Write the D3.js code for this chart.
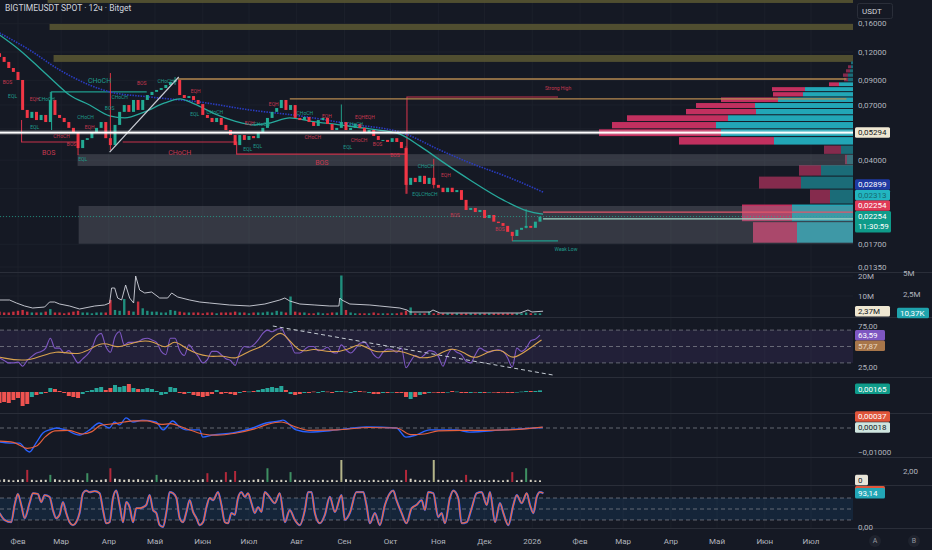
<!DOCTYPE html>
<html>
<head>
<meta charset="utf-8">
<script src="https://cdn.jsdelivr.net/npm/d3@7"></script>
<style>
  html, body { margin: 0; padding: 0; background: #151924; }
  svg { display: block; font-family: Roboto, "Noto Sans", sans-serif; }
</style>
</head>
<body>
<script>
const width = 932;
const height = 550;
const plotRight = 853;

// ---- data (day = days since 2025-01-20, one candle every 3 days) ----
const startDay = Date.UTC(2025, 0, 20);
const firstOpen = 0.1185;
const closes = [
  0.1141,0.1085,0.1020,0.0980,0.0903,0.0666,0.0614,0.0653,0.0601,0.0633,
  0.0589,0.0737,0.0633,0.0614,0.0589,0.0555,0.0532,0.0452,0.0491,0.0500,
  0.0527,0.0555,0.0589,0.0500,0.0466,0.0572,0.0653,0.0700,0.0653,0.0737,
  0.0666,0.0737,0.0775,0.0800,0.0816,0.0832,0.0858,0.0885,0.0903,0.0775,
  0.0752,0.0767,0.0737,0.0707,0.0633,0.0614,0.0589,0.0614,0.0572,0.0543,
  0.0516,0.0466,0.0516,0.0491,0.0511,0.0500,0.0532,0.0555,0.0614,0.0653,
  0.0679,0.0737,0.0666,0.0700,0.0614,0.0601,0.0620,0.0589,0.0566,0.0601,
  0.0614,0.0577,0.0543,0.0555,0.0589,0.0543,0.0555,0.0577,0.0555,0.0532,
  0.0543,0.0511,0.0491,0.0491,0.0481,0.0500,0.0481,0.0452,0.0311,0.0334,
  0.0320,0.0341,0.0314,0.0334,0.0311,0.0302,0.0289,0.0302,0.0289,0.0295,
  0.0267,0.0241,0.0246,0.0236,0.0241,0.0222,0.0229,0.0214,0.0211,0.0205,
  0.0193,0.0185,0.0197,0.0201,0.0205,0.0201,0.0214,0.02254
];
// [candle, high, low] for the long wicks
const wicks = [[0,0.1185,0.1120],[11,0.0800,0.0650],[17,0.0470,0.0421],[24,0.0969,0.0443],
  [38,0.0931,0.0860],[74,0.0704,0.0560],[88,0.0460,0.0284],[94,0.0405,0.0300],
  [111,0.0190,0.0176],[114,0.0243,0.0200]];

const maTealDay = [0,13,26,35.8,45.5,58.5,71.5,81.3,94.3,107.3,117,126.8,139.8,152.8,165.8,175.5,188.5,201.5,221,240.5,260,273,290.6,305.5,327,342.6,353];
const maTeal = [0.1427,0.1225,0.1020,0.0885,0.0775,0.0700,0.0627,0.0614,0.0653,0.0715,0.0745,0.0707,0.0640,0.0595,0.0572,0.0583,0.0614,0.0595,0.0572,0.0549,0.0521,0.0461,0.0381,0.0327,0.0267,0.0239,0.0231];
const maBlueDay = [0,19.5,39,58.5,71.5,97.5,130,162.5,195,227.5,262,286,305.5,331.5,353];
const maBlue = [0.1456,0.1225,0.1000,0.0858,0.0800,0.0760,0.0722,0.0666,0.0627,0.0577,0.0527,0.0443,0.0389,0.0334,0.0289];

// volume profile rows (bottom up)
const vpLow = 0.0172;
const vpStep = 0.0042;
const vpSell = [44,50,20,42,22,2,17,95,122,104,101,70,59,57,30,33,10,4,5,4,3,0];
const vpBuy  = [56,61,23,52,32,6,12,79,132,137,125,97,98,75,50,48,14,5,5,3,2,2];
const vpBright = [1,1,0,0,0,0,0,1,1,1,1,1,1,1,1,1,1,0,0,0,0,0];

// zones [fromDay, toDay, lowPrice, highPrice]
const oliveZones = [[31.2,555,0.1975,0.2036],[32.5,555,0.1501,0.1596],[35.1,555,0.1085,0.1164]];
const greyZones = [[50.7,555,0.0377,0.0425],[51.4,555,0.0171,0.0251]];
const redStructure = [
  [[14.3,0.0601],[14.3,0.0481],[50.7,0.0481]],
  [[80,0.0481],[154,0.0481],[154,0.0425],[264.6,0.0425]],
  [[264.6,0.0284],[264.6,0.0760],[362.7,0.0760]]
];
const tealStructure = [
  [[33.8,0.0543],[33.8,0.0800],[95.6,0.0800]],
  [[332.8,0.0176],[362.7,0.0176]]
];
const orangeLevels = [[115.7,550,0.0912],[188.5,550,0.0745]];
const zoneLines = [[353,555,0.0236,"#e0566a"],[353,555,0.0220,"#9fd6c6"]];
const trendLine = [[71.5,0.0434],[116.4,0.0931]];
const pocPrice = 0.05294;
const lastPrice = 0.02254;

const smcLabels = [
  ["BOS",5.2,0.0885,"r",5],["EQL",8.5,0.0767,"t",5],["EQH",22.8,0.0745,"r",5],["CHoCH",30.6,0.0745,"t",5],
  ["EQL",22.8,0.0560,"t",5],["CHoCH",55.9,0.0620,"t",5],["EQH",58.5,0.0560,"r",5],["CHoCH",40.3,0.0511,"r",5],
  ["BOS",46.8,0.0471,"r",5],["EQL",54,0.0405,"t",5],["BOS",31.9,0.0434,"r",7],["CHoCH",65,0.0894,"t",7],
  ["BOS",71.5,0.0679,"t",5],["BOS",92.3,0.0876,"r",5],["CHoCH",107.9,0.0894,"t",5],["CHoCH",78,0.0760,"t",5],
  ["EQH",127.4,0.0807,"r",5],["EQL",126.8,0.0640,"t",5],["CHoCH",139.8,0.0653,"t",5],["EQH",162.5,0.0583,"r",5],
  ["EQL",161.2,0.0448,"t",5],["EQL",167.7,0.0461,"t",5],["CHoCH",170.3,0.0577,"t",5],["EQH",178.1,0.0707,"r",5],
  ["CHoCH",198.3,0.0646,"t",5],["EQH",212.6,0.0627,"r",5],["EQHEQH",237.3,0.0620,"r",5],["CHoCH",203.5,0.0506,"r",5],
  ["CHoCH",230.8,0.0577,"t",5],["CHoCH",233.5,0.0488,"r",5],["BOS",245.5,0.0468,"r",5],["EQL",226.2,0.0457,"t",5],
  ["BOS",256.8,0.0421,"r",5],["CHoCH",117,0.0434,"r",7],["BOS",209.3,0.0389,"r",7],["CHoCH",276.9,0.0377,"t",5],
  ["EQH",289.9,0.0344,"r",5],["EQLCHoCH",276.3,0.0284,"t",5],["BOS",295.8,0.0229,"r",5],["BOS",325,0.0199,"r",5],
  ["Strong High",362.7,0.0832,"r",5],["Weak Low",367.9,0.0162,"t",5]
];

const priceTicks = [0.16,0.12,0.09,0.07,0.055,0.04,0.03,0.0225,0.017,0.0135];
const labelledTicks = [0.16,0.12,0.09,0.07,0.04,0.017,0.0135];

// volume pane
const volLine = [[0,8],[6.5,8],[11,6.5],[16.3,5],[21.5,4],[29.3,4.5],[32.5,7],[35.8,7],[39,6],[45.5,5],[52,3.5],
  [61.8,5],[68.3,5.5],[71.5,6.5],[72.8,14],[74.8,14],[76.7,9],[79.3,8],[81.9,15.5],[84.5,9],[87.1,6.5],[88.4,20],
  [91,13],[94.3,11.5],[98.8,12],[104,9],[109.2,9],[111.8,11.5],[115.7,9.5],[123.5,8],[130,7],[136.5,6.5],
  [149.5,5.5],[162.5,5],[172.3,6],[182,8],[185.3,9],[188.5,7.5],[195,6],[204.8,5.5],[214.5,5],[220.4,5],[221,9],
  [222.3,8],[227.5,6],[240.5,5.5],[247,5],[260,4],[264.6,3],[266.5,2],[279.5,2],[281.5,3],[286,1.5],[325,1.5],
  [338,1.5],[343.2,3],[345.8,2],[353,2.4]];
const volBars = [
  0.4,0.3,0.3,0.4,0.5,0.6,0.4,0.3,0.3,0.3, 0.4,0.7,0.3,0.3,0.2,0.3,0.4,0.5,0.3,0.3,
  0.2,0.3,0.3,0.3,1.8,0.6,0.5,1.9,0.5,0.4, 1.6,0.8,0.5,0.4,0.4,0.3,0.3,0.6,0.5,0.4,
  0.3,0.3,0.3,0.3,0.2,0.3,0.3,0.2,0.3,0.3, 0.3,0.4,0.3,0.3,0.2,0.3,0.3,0.3,0.4,0.3,
  0.5,0.4,0.3,2.2,0.4,0.3,0.3,0.2,0.2,0.3, 0.2,0.2,0.3,0.3,4.7,0.6,0.3,0.2,0.2,0.2,
  0.2,0.3,0.2,0.2,0.2,0.2,0.2,0.3,0.5,0.9, 0.2,0.2,0.2,0.4,0.2,0.2,0.2,0.2,0.2,0.2,
  0.2,0.2,0.2,0.2,0.2,0.2,0.2,0.2,0.2,0.2, 0.2,0.2,0.2,0.2,0.3,0.2,0.2,0.2];

// RSI
const rsi = [
  36,33,30,30,31,26,33,38,42,44, 48,60,48,48,42,45,38,30,35,40,
  48,62,66,50,43,62,68,52,55,55, 56,59,60,58,55,44,40,60,60,45,
  39,52,45,38,30,34,44,44,40,35, 33,27,42,50,49,52,58,66,70,68,
  71,72,62,54,42,42,46,50,50,45, 46,49,43,42,52,46,42,47,54,55,
  49,40,36,43,47,46,43,48,24,32, 39,36,40,45,44,38,26,40,47,43,
  40,32,30,40,48,45,43,45,46,44, 36,25,48,44,48,57,59,64];
const rsiMaDay = [0,19.5,37,52,67,76,87,100,108,113.4,121,136.5,145,153.5,162.5,171,180,184.5,195,203.5,214,227.5,234,243.5,260,273,286,292.5,302,308.5,318.5,328,332.5,344.5,352];
const rsiMa = [37,30,48,36,59,46,56,58,45,60,46,36,40,33,46,49,66,68,40,49,42,46,56,40,48,33,40,49,43,33,46,46,32,48,58];
const rsiTrend = [[177.5,75],[359.5,15.2]];

// MACD (values in 1e-3)
const macdHist = [
  -5.5,-5,-5.5,-4,-3,-7,-6,-2.5,-1.5,-1, -0.5,2,1.5,0.5,-0.5,-2,-2.5,-3,-1,0.5,
  1,2,2.5,1,2,3.5,2.5,3,4,2, 1.5,1.5,2,1.5,0.5,-1.5,-1,2.5,2,-0.5,
  -1,-0.5,-1.5,-2,-2.5,-2,-1,1,-1,-0.5, -1,-1.5,-0.5,0.5,0.2,0.5,1,1.5,2,2.5,
  2,3,1,-1,-1.5,-1,-0.5,-0.5,0.2,-0.5, 0.5,0.2,-0.5,0.5,0.5,0.2,-0.5,0.5,0.5,0.2,
  -0.5,-1,-1,-0.5,-0.5,-0.2,-0.5,-0.5,-2.5,-3.5, -2.5,-1.5,-1,-0.5,-0.2,-0.5,-0.5,-0.2,0.5,0.2,
  -0.5,-0.5,-0.5,-0.2,-0.5,-0.5,-0.2,-0.2,-0.5,-0.2, -0.5,-0.5,-0.2,0.2,0.5,0.5,0.5,0.8];
const macdDay = [0,6.6,12.9,17.4,19.5,23.7,28.2,32.4,36.9,43.2,51.9,58.5,64.8,71.4,74.7,78,82.2,86.7,93,101.7,106.2,112.5,117,121.2,129.9,132,138.6,151.5,164.4,173.1,181.8,183.9,192.6,201.3,219.3,238.2,257.7,264,270.6,279.3,296.7,305.1,327,352.8];
const macdLine = [-5.8,-6.3,-6.3,-9.2,-10,-6.3,-2.1,-0.8,0,-0.8,-2.9,-0.8,2.1,0,2.5,1.3,4.2,2.5,3.3,2.5,-0.8,2.9,0.4,-0.8,-0.8,-3.8,-2.9,-2.1,0,2.1,2.9,3.3,-0.8,-1.7,-0.8,0.4,0,-3.8,-2.9,-0.8,-0.8,-1.7,-0.8,0.2];
const signalDay = [0,9,18,24,30,36,45,54,60,66,75,81,87,96,105,111,120,132,141,153,165,174,183,192,201,219,240,258,267,276,285,300,315,330,352.8];
const signalLine = [-5.5,-6,-8.5,-7.5,-3.5,-1.2,-1,-2.5,-1.5,1.2,1.8,2.5,3,3,1.5,1.8,0,-2.5,-3,-2.2,-0.5,1.5,2.5,0.5,-1,-0.8,0.2,0,-2.8,-2.5,-1.2,-1,-1,-0.8,0.4];

// squeeze-style bars
const sqBars = [
  0.4,0.5,0.4,0.3,0.4,0.5,2.2,0.4,0.3,0.4, 0.4,1.3,0.5,0.4,0.3,0.4,0.5,0.4,0.3,1.6,
  0.4,0.3,0.4,0.5,2.5,0.6,0.5,0.4,0.5,0.4, 0.5,0.4,0.3,0.4,1.3,0.4,0.5,0.4,0.3,0.4,
  0.3,0.4,0.3,0.4,0.5,1.6,0.4,0.3,0.4,1.8, 0.4,2.0,0.3,0.4,0.3,0.4,0.5,0.4,2.5,0.4,
  0.3,0.4,0.3,1.8,0.4,0.3,0.4,0.3,0.4,0.3, 0.4,0.3,0.4,0.3,4.0,0.5,0.4,0.3,0.4,0.3,
  0.3,0.4,0.3,0.3,0.4,0.3,0.4,0.3,2.2,0.6, 0.4,0.3,0.4,0.3,4.0,0.4,0.3,0.4,0.3,0.4,
  0.3,1.3,0.4,0.3,0.4,0.3,0.3,0.4,0.3,0.3, 0.4,1.8,0.3,0.4,2.5,0.4,0.3,0.3];

// stochastic
const stochDay = [0,3.3,7.6,9.8,11.9,14.1,16.3,19.5,21.7,24.9,27.1,29.3,32.5,34.7,36.8,39,41.2,43.3,45.5,47.7,
  49.8,52,54.2,56.3,58.5,61.8,65,67.2,69.3,71.5,73.7,75.8,78,80.2,82.3,84.5,86.7,88.8,91,93.2,
  95.3,97.5,99.7,101.8,104,106.2,108.4,110.5,112.7,114.9,117,119.2,121.4,123.5,125.7,127.9,130,132.2,134.4,136.5,
  138.7,141.9,144.1,146.3,148.4,150.6,152.8,154.9,157.1,159.3,161.4,163.6,165.8,167.9,170.1,172.3,174.4,
  178.8,182,185.3,188.5,191.8,195,198.3,200.4,202.6,204.8,208,211.3,214.5,217.8,222.1,224.3,227.5,231.8,236.2,238.3,
  240.5,243.8,247,250.3,253.5,255.7,257.8,261.1,264.3,267.6,270.8,274.1,276.3,278.4,281.7,284.9,287.1,289.3,292.5,294.7,
  297.9,300.1,303.4,306.6,309.9,313.1,316.4,318.5,321.8,325,327.2,330.4,333.7,335.9,339.1,342.4,344.5,346.7,348.9,351,353.2];
const stochK = [39,20,14,61,91,61,25,66,93,91,69,88,83,47,25,34,69,39,14,6,
  14,39,93,100,96,99,93,47,11,14,80,100,61,14,69,55,14,52,52,55,
  61,88,47,39,6,1,42,96,93,80,25,14,42,74,42,25,6,14,55,80,
  74,96,61,14,11,39,34,80,96,83,93,66,39,55,42,96,88,
  66,93,14,47,20,6,47,96,96,39,11,34,83,42,88,20,39,96,96,61,
  11,39,6,61,93,100,74,39,11,52,61,74,47,96,93,28,39,11,80,100,
  80,11,14,52,93,96,61,96,14,66,39,6,61,88,66,93,61,39,83,96,93];

const ruMonths = ["Янв","Фев","Мар","Апр","Май","Июн","Июл","Авг","Сен","Окт","Ноя","Дек"];

// ---- layout ----
const svg = d3.select("body").append("svg")
  .attr("width", width)
  .attr("height", height)
  .style("background", "#151924");

const UP = "#22ab94", DOWN = "#f23645";
const axisText = "#b2b5be";
const gridColor = "#1c202b";

const dayDate = d => new Date(startDay + d * 864e5);
const x = d3.scaleUtc()
  .domain([new Date(Date.UTC(2025, 1, 1)), new Date(Date.UTC(2026, 6, 1))])
  .range([18, 811]);
const xd = d => x(dayDate(d));

const yP = d3.scaleLog().domain([0.12, 0.0135]).range([52, 267]);
const yVol = d3.scaleLinear().domain([0, 20]).range([316, 276]);
const yVol2 = d3.scaleLinear().domain([0, 5]).range([315, 273]);
const yRsi = d3.scaleLinear().domain([25, 75]).range([367, 326]);
const yHist = d3.scaleLinear().domain([-10, 10]).range([412, 372]);
const yMacd = d3.scaleLinear().domain([-10, 0]).range([452, 428]);
const ySq = d3.scaleLinear().domain([0, 2]).range([482, 471]);
const yStoch = d3.scaleLinear().domain([0, 100]).range([527.3, 490.7]);
const xVP = d3.scaleLinear().domain([0, 100]).range([0, 100]);

const panes = [[0, 272], [272, 317], [317, 377], [377, 413], [413, 457], [457, 485], [485, 528]];
const defs = svg.append("defs");
panes.forEach((p, i) => {
  defs.append("clipPath").attr("id", "clip" + i)
    .append("rect").attr("x", 0).attr("y", p[0]).attr("width", plotRight).attr("height", p[1] - p[0]);
});
const pane = i => svg.append("g").attr("clip-path", `url(#clip${i})`);

const fmt = (v, n) => d3.format(`.${n}f`)(v).replace(".", ",");
const candles = closes.map((c, i) => ({ i, day: i * 3, o: i ? closes[i - 1] : firstOpen, c }));

// grid
const months = d3.utcMonths(new Date(Date.UTC(2025, 1, 1)), new Date(Date.UTC(2026, 6, 2)));
svg.append("g").selectAll("line").data(months).join("line")
  .attr("x1", d => x(d)).attr("x2", d => x(d))
  .attr("y1", 0).attr("y2", 528)
  .attr("stroke", gridColor);
svg.append("g").selectAll("line").data(priceTicks).join("line")
  .attr("x1", 0).attr("x2", plotRight)
  .attr("y1", d => yP(d)).attr("y2", d => yP(d))
  .attr("stroke", gridColor);
svg.append("g").selectAll("line").data([10, 20]).join("line")
  .attr("x1", 0).attr("x2", plotRight)
  .attr("y1", d => yVol(d)).attr("y2", d => yVol(d))
  .attr("stroke", gridColor);

// ---- main pane ----
const main = pane(0);

main.append("g").selectAll("rect").data(oliveZones).join("rect")
  .attr("x", d => xd(d[0])).attr("width", d => xd(d[1]) - xd(d[0]))
  .attr("y", d => yP(d[3])).attr("height", d => yP(d[2]) - yP(d[3]))
  .attr("fill", "#5a5833").attr("opacity", 0.85);

// volume profile
const vpRows = vpSell.map((s, k) => ({ k, s, b: vpBuy[k], lo: vpLow + k * vpStep, hi: vpLow + (k + 1) * vpStep, bright: vpBright[k] }));
const vp = main.append("g");
vp.selectAll("rect.buy").data(vpRows).join("rect")
  .attr("x", d => plotRight - xVP(d.b)).attr("width", d => xVP(d.b))
  .attr("y", d => yP(d.hi) + 0.5).attr("height", d => Math.max(0.5, yP(d.lo) - yP(d.hi) - 1))
  .attr("fill", d => d.bright ? "#22a6b6" : "#1b6c78");
vp.selectAll("rect.sell").data(vpRows).join("rect")
  .attr("x", d => plotRight - xVP(d.b + d.s)).attr("width", d => xVP(d.s))
  .attr("y", d => yP(d.hi) + 0.5).attr("height", d => Math.max(0.5, yP(d.lo) - yP(d.hi) - 1))
  .attr("fill", d => d.bright ? "#c2305f" : "#852b4d");

main.append("g").selectAll("rect").data(greyZones).join("rect")
  .attr("x", d => xd(d[0])).attr("width", d => xd(d[1]) - xd(d[0]))
  .attr("y", d => yP(d[3])).attr("height", d => yP(d[2]) - yP(d[3]))
  .attr("fill", "#787b86").attr("opacity", 0.32);

const pLine = d3.line().x(d => xd(d[0])).y(d => yP(d[1]));
main.append("g").selectAll("path").data(redStructure).join("path")
  .attr("d", pLine).attr("fill", "none").attr("stroke", "#c8324a").attr("stroke-width", 1.1);
main.append("g").selectAll("path").data(tealStructure).join("path")
  .attr("d", pLine).attr("fill", "none").attr("stroke", "#1f9c8c").attr("stroke-width", 1.1);
main.append("g").selectAll("line").data(orangeLevels).join("line")
  .attr("x1", d => xd(d[0])).attr("x2", d => xd(d[1]))
  .attr("y1", d => yP(d[2])).attr("y2", d => yP(d[2]))
  .attr("stroke", "#b5894f").attr("stroke-width", 1.4);
main.append("g").selectAll("line").data(zoneLines).join("line")
  .attr("x1", d => xd(d[0])).attr("x2", d => xd(d[1]))
  .attr("y1", d => yP(d[2])).attr("y2", d => yP(d[2]))
  .attr("stroke", d => d[3]).attr("stroke-width", 1.3);

// moving averages
main.append("path")
  .attr("d", d3.line().curve(d3.curveMonotoneX).x((d, i) => xd(maBlueDay[i])).y(d => yP(d))(maBlue))
  .attr("fill", "none").attr("stroke", "#2a3cc0").attr("stroke-width", 1.6).attr("stroke-dasharray", "1.5,1.2");
main.append("path")
  .attr("d", d3.line().curve(d3.curveMonotoneX).x((d, i) => xd(maTealDay[i])).y(d => yP(d))(maTeal))
  .attr("fill", "none").attr("stroke", "#27a99c").attr("stroke-width", 1.3);

// candles
main.append("g").selectAll("line").data(wicks).join("line")
  .attr("x1", d => xd(d[0] * 3)).attr("x2", d => xd(d[0] * 3))
  .attr("y1", d => yP(d[1])).attr("y2", d => yP(d[2]))
  .attr("stroke", d => closes[d[0]] >= (d[0] ? closes[d[0] - 1] : firstOpen) ? UP : DOWN)
  .attr("stroke-width", 0.9);
main.append("g").selectAll("rect").data(candles).join("rect")
  .attr("x", d => xd(d.day) - 1.5).attr("width", 3)
  .attr("y", d => yP(Math.max(d.o, d.c)))
  .attr("height", d => Math.max(1, Math.abs(yP(d.o) - yP(d.c))))
  .attr("fill", d => d.c >= d.o ? UP : DOWN);

// trend line and POC line
main.append("path").attr("d", pLine(trendLine))
  .attr("stroke", "#c9ccd4").attr("stroke-width", 1.2).attr("fill", "none");
main.append("line").attr("x1", 0).attr("x2", plotRight)
  .attr("y1", yP(pocPrice)).attr("y2", yP(pocPrice))
  .attr("stroke", "#ffffff").attr("stroke-opacity", 0.35).attr("stroke-width", 4);
main.append("line").attr("x1", 0).attr("x2", plotRight)
  .attr("y1", yP(pocPrice)).attr("y2", yP(pocPrice))
  .attr("stroke", "#ffffff").attr("stroke-width", 1.8);
main.append("line").attr("x1", 0).attr("x2", plotRight)
  .attr("y1", yP(lastPrice)).attr("y2", yP(lastPrice))
  .attr("stroke", "#22ab94").attr("stroke-opacity", 0.7).attr("stroke-dasharray", "1,2");

main.append("g").selectAll("text").data(smcLabels).join("text")
  .attr("x", d => xd(d[1])).attr("y", d => yP(d[2]))
  .attr("text-anchor", "middle").attr("dy", "0.35em")
  .attr("font-size", d => d[4])
  .attr("fill", d => d[3] === "r" ? "#c5384f" : "#1f9c8c")
  .text(d => d[0]);

svg.append("text").attr("x", 5).attr("y", 11)
  .attr("font-size", 8.5).attr("fill", "#d1d4dc")
  .text("BIGTIMEUSDT SPOT · 12ч · Bitget");

// ---- volume pane ----
const volG = pane(1);
volG.append("g").selectAll("rect").data(candles).join("rect")
  .attr("x", d => xd(d.day) - 1.2).attr("width", 2.4)
  .attr("y", (d, i) => yVol2(volBars[i]))
  .attr("height", (d, i) => yVol2(0) - yVol2(volBars[i]))
  .attr("fill", d => d.c >= d.o ? UP : DOWN).attr("opacity", 0.8);
volG.append("path")
  .attr("d", d3.line().x(d => xd(d[0])).y(d => yVol(d[1]))(volLine))
  .attr("fill", "none").attr("stroke", "#d1d4dc").attr("stroke-width", 0.9);

// ---- RSI pane ----
const rsiG = pane(2);
rsiG.append("rect").attr("x", 0).attr("width", plotRight)
  .attr("y", yRsi(70)).attr("height", yRsi(30) - yRsi(70))
  .attr("fill", "#7e57c2").attr("opacity", 0.13);
rsiG.append("g").selectAll("line").data([70, 50, 30]).join("line")
  .attr("x1", 0).attr("x2", plotRight).attr("y1", d => yRsi(d)).attr("y2", d => yRsi(d))
  .attr("stroke", "#787b86").attr("stroke-dasharray", "4,3").attr("stroke-width", 0.8);
rsiG.append("path")
  .attr("d", d3.line().curve(d3.curveMonotoneX).x((d, i) => xd(i * 3)).y(d => yRsi(d))(rsi))
  .attr("fill", "none").attr("stroke", "#7e57c2").attr("stroke-width", 1.1);
rsiG.append("path")
  .attr("d", d3.line().curve(d3.curveBasis).x((d, i) => xd(rsiMaDay[i])).y(d => yRsi(d))(rsiMa))
  .attr("fill", "none").attr("stroke", "#d9a24e").attr("stroke-width", 1.1);
rsiG.append("path")
  .attr("d", d3.line().x(d => xd(d[0])).y(d => yRsi(d[1]))(rsiTrend))
  .attr("stroke", "#c5ccd4").attr("stroke-dasharray", "4,3").attr("fill", "none");

// ---- MACD histogram pane ----
const histG = pane(3);
histG.append("g").selectAll("rect").data(macdHist).join("rect")
  .attr("x", (d, i) => xd(i * 3) - 2).attr("width", 4)
  .attr("y", d => Math.min(yHist(d), yHist(0)))
  .attr("height", d => Math.max(0.6, Math.abs(yHist(d) - yHist(0))))
  .attr("fill", (d, i) => candles[i].c >= candles[i].o ? "#26a69a" : "#ef5350");

// ---- MACD lines pane ----
const macdG = pane(4);
macdG.append("line").attr("x1", 0).attr("x2", plotRight).attr("y1", yMacd(0)).attr("y2", yMacd(0))
  .attr("stroke", "#787b86").attr("stroke-dasharray", "4,3").attr("stroke-width", 0.8);
macdG.append("path")
  .attr("d", d3.line().curve(d3.curveMonotoneX).x((d, i) => xd(macdDay[i])).y(d => yMacd(d))(macdLine))
  .attr("fill", "none").attr("stroke", "#2962ff").attr("stroke-width", 1.4);
macdG.append("path")
  .attr("d", d3.line().curve(d3.curveMonotoneX).x((d, i) => xd(signalDay[i])).y(d => yMacd(d))(signalLine))
  .attr("fill", "none").attr("stroke", "#e5603d").attr("stroke-width", 1.2);

// ---- squeeze bars pane ----
const sqG = pane(5);
sqG.append("g").selectAll("rect").data(sqBars).join("rect")
  .attr("x", (d, i) => xd(i * 3) - 1).attr("width", 2)
  .attr("y", d => ySq(d)).attr("height", d => ySq(0) - ySq(d))
  .attr("fill", (d, i) => d >= 3.5 ? "#b4b58a" : d > 1 ? (candles[i].c >= candles[i].o ? "#3e8f62" : "#b2283a") : "#d6d1c2");

// ---- stochastic pane ----
const stG = pane(6);
stG.append("rect").attr("x", 0).attr("width", plotRight)
  .attr("y", yStoch(80)).attr("height", yStoch(20) - yStoch(80))
  .attr("fill", "#2196f3").attr("opacity", 0.1);
stG.append("g").selectAll("line").data([80, 50, 20]).join("line")
  .attr("x1", 0).attr("x2", plotRight).attr("y1", d => yStoch(d)).attr("y2", d => yStoch(d))
  .attr("stroke", "#787b86").attr("stroke-dasharray", "4,3").attr("stroke-width", 0.8);
const stochPath = d3.line().curve(d3.curveMonotoneX).x((d, i) => xd(stochDay[i])).y(d => yStoch(d))(stochK);
stG.append("path").attr("d", stochPath).attr("fill", "none").attr("stroke", "#2962ff").attr("stroke-width", 2.2);
stG.append("path").attr("d", stochPath).attr("fill", "none").attr("stroke", "#f0683a").attr("stroke-width", 1.3);

// pane separators
svg.append("g").selectAll("line").data(panes.slice(1).map(p => p[0]).concat([528])).join("line")
  .attr("x1", 0).attr("x2", width).attr("y1", d => d + 0.5).attr("y2", d => d + 0.5)
  .attr("stroke", "#2a2e39");

// ---- axes ----
const axis = svg.append("g").attr("font-size", 8).attr("fill", axisText);
axis.selectAll("text.price").data(labelledTicks).join("text")
  .attr("x", 858).attr("y", d => yP(d)).attr("dy", "0.35em").text(d => fmt(d, 5));
[[yVol(20), "20M"], [yVol(10), "10M"], [yRsi(75), "75,00"], [yRsi(25), "25,00"],
 [yMacd(-10), fmt(-0.01, 5)], [yStoch(0), "0,00"]].forEach(([y, t]) => {
  axis.append("text").attr("x", 858).attr("y", y).attr("dy", "0.35em").text(t);
});
[[yVol2(5), "5M"], [yVol2(2.5), "2,5M"], [471, "2,00"]].forEach(([y, t]) => {
  axis.append("text").attr("x", 903).attr("y", y).attr("dy", "0.35em").text(t);
});

function tag(yc, text, bg, fg, x0 = 855, w = 35, h = 10.5) {
  const g = svg.append("g").attr("font-size", 8);
  g.append("rect").attr("x", x0).attr("y", yc - h / 2).attr("width", w).attr("height", h)
    .attr("rx", 1.5).attr("fill", bg);
  if (text) g.append("text").attr("x", x0 + 3).attr("y", yc).attr("dy", "0.35em").attr("fill", fg).text(text);
}

// main pane price tags (stacked upward from the last price)
const lastY = yP(lastPrice);
svg.append("rect").attr("x", 855).attr("y", lastY - 5.5).attr("width", 36).attr("height", 21.5)
  .attr("rx", 1.5).attr("fill", "#0f9b8a");
svg.append("text").attr("x", 858).attr("y", lastY).attr("dy", "0.35em").attr("font-size", 8)
  .attr("fill", "#ffffff").text(fmt(lastPrice, 5));
svg.append("text").attr("x", 858).attr("y", lastY + 10).attr("dy", "0.35em").attr("font-size", 8)
  .attr("fill", "#ffffff").text("11:30:59");
tag(lastY - 11, fmt(lastPrice, 5), "#e03a57", "#ffffff");
tag(lastY - 21.5, fmt(maTeal[maTeal.length - 1] + 0.00003, 5), "#22b5c0", "#176a72");
tag(lastY - 32, fmt(maBlue[maBlue.length - 1] + 0.00009, 5), "#1f3aa3", "#ffffff");
tag(yP(pocPrice), fmt(pocPrice, 5), "#efe7d2", "#131722");

// USDT box
svg.append("rect").attr("x", 857.5).attr("y", 3.5).attr("width", 35).attr("height", 15)
  .attr("rx", 2).attr("fill", "#151924").attr("stroke", "#2a2e39");
svg.append("text").attr("x", 862).attr("y", 11).attr("dy", "0.35em").attr("font-size", 8)
  .attr("fill", "#d1d4dc").text("USDT");

// sub pane tags
tag(yVol(2.37), "2,37M", "#efe7d2", "#131722");
tag(313, "10,37K", "#1fa3ad", "#ffffff", 897, 32);
tag(yRsi(63.59), "63,59", "#7e57c2", "#ffffff", 855, 30);
tag(yRsi(63.59) + 10.5, "57,87", "#a8764a", "#ead9c4", 855, 30);
tag(yHist(1.65), "0,00165", "#0f9b8a", "#ffffff");
tag(yMacd(0.18) - 11, "0,00037", "#e0553a", "#ffffff");
tag(yMacd(0.18), "0,00018", "#cfe5df", "#131722");
tag(480, "0", "#e8e4d8", "#131722", 855, 13);
tag(yStoch(93.14) - 2, "", "#e0553a", "#ffffff", 855, 30);
tag(yStoch(93.14), "93,14", "#22a6b6", "#ffffff", 855, 30);

// time axis
axis.selectAll("text.month").data(months).join("text")
  .attr("x", d => x(d)).attr("y", 541).attr("dy", "0.35em").attr("text-anchor", "middle")
  .text(d => d.getUTCMonth() === 0 ? String(d.getUTCFullYear()) : ruMonths[d.getUTCMonth()]);
[[875, "A"], [914, "B"]].forEach(([cx, t]) => {
  svg.append("circle").attr("cx", cx).attr("cy", 541).attr("r", 6).attr("fill", "#1f232e");
  svg.append("text").attr("x", cx).attr("y", 541).attr("dy", "0.35em").attr("text-anchor", "middle")
    .attr("font-size", 7).attr("fill", "#9598a1").text(t);
});
</script>
</body>
</html>
